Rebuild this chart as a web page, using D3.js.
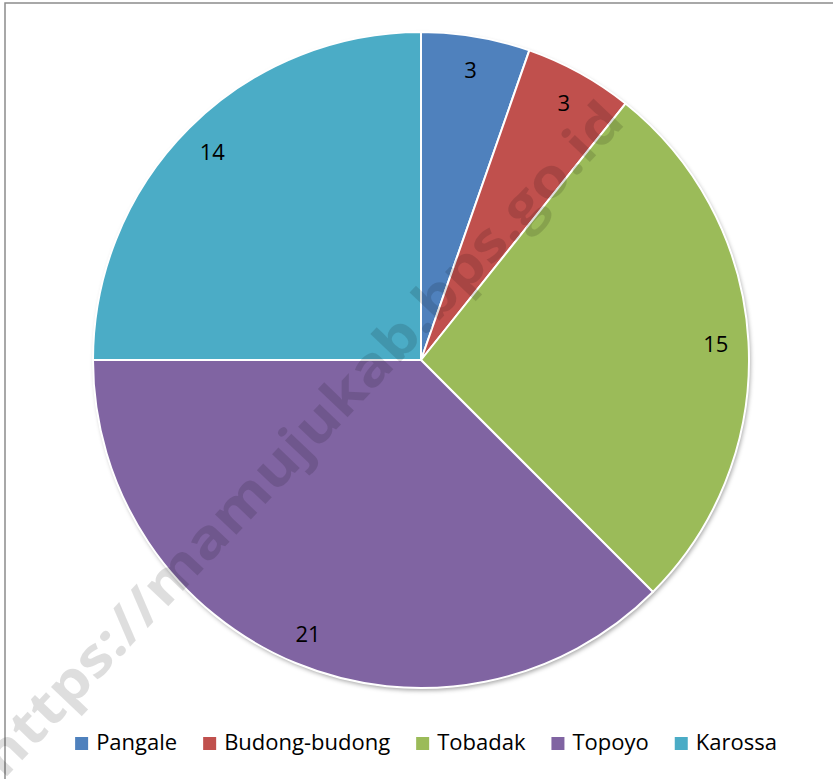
<!DOCTYPE html>
<html>
<head>
<meta charset="utf-8">
<script src="https://cdn.jsdelivr.net/npm/d3@7"></script>
<style>
  html, body { margin: 0; padding: 0; background: #fff; }
  svg { display: block; font-family: "Open Sans", sans-serif; }
</style>
</head>
<body>
<div id="chart"></div>
<script>
const categories = ["Pangale", "Budong-budong", "Tobadak", "Topoyo", "Karossa"];
const values = [3, 3, 15, 21, 14];
const colors = ["#4F81BD", "#C0504D", "#9BBB59", "#8064A2", "#4BACC6"];

const width = 833, height = 779;
const cx = 421, cy = 360, radius = 328;

const svg = d3.select("#chart").append("svg")
    .attr("width", width)
    .attr("height", height);

const defs = svg.append("defs");
defs.append("filter")
    .attr("id", "shadow")
    .attr("x", "-10%").attr("y", "-10%")
    .attr("width", "120%").attr("height", "120%")
  .append("feDropShadow")
    .attr("dx", 1.5).attr("dy", 2.5)
    .attr("stdDeviation", 2)
    .attr("flood-color", "#000")
    .attr("flood-opacity", 0.35);

// chart frame (right/bottom edges fall outside the picture)
svg.append("rect")
    .attr("x", 5).attr("y", 3)
    .attr("width", width + 20).attr("height", height + 20)
    .attr("fill", "none")
    .attr("stroke", "#8c8c8c")
    .attr("stroke-width", 1.5);

const data = categories.map((name, i) => ({name, value: values[i], color: colors[i]}));

const pie = d3.pie()
    .sort(null)
    .value(d => d.value);
const arcs = pie(data);

const arc = d3.arc().innerRadius(0).outerRadius(radius);
const labelArc = d3.arc().innerRadius(radius * 0.9).outerRadius(radius * 0.9);

const g = svg.append("g")
    .attr("transform", "translate(" + cx + "," + cy + ")");

g.append("circle")
    .attr("r", radius)
    .attr("fill", "#fff")
    .attr("filter", "url(#shadow)");

g.selectAll("path.slice")
    .data(arcs)
  .enter().append("path")
    .attr("class", "slice")
    .attr("d", arc)
    .attr("fill", d => d.data.color)
    .attr("stroke", "#fff")
    .attr("stroke-width", 2)
    .attr("stroke-linejoin", "round");

g.selectAll("text.label")
    .data(arcs)
  .enter().append("text")
    .attr("class", "label")
    .attr("transform", d => "translate(" + labelArc.centroid(d) + ")")
    .attr("text-anchor", "middle")
    .attr("dominant-baseline", "central")
    .attr("font-size", 22)
    .attr("fill", "#000")
    .text(d => d.data.value);

// legend
const legend = svg.append("g");
const item = legend.selectAll("g")
    .data(data)
  .enter().append("g");
item.append("rect")
    .attr("width", 13).attr("height", 13)
    .attr("y", -13)
    .attr("fill", d => d.color);
item.append("text")
    .attr("x", 21)
    .attr("font-size", 22)
    .attr("fill", "#000")
    .text(d => d.name);

let xPos = 0;
item.each(function() {
  const gItem = d3.select(this);
  gItem.attr("transform", "translate(" + xPos + ",0)");
  const w = gItem.select("text").node().getComputedTextLength();
  xPos += 21 + w + 26;
});
const legendWidth = xPos - 26;
legend.attr("transform", "translate(" + (426 - legendWidth / 2) + ",750)");

// watermark
svg.append("text")
    .attr("transform", "translate(300,437) rotate(-46.5)")
    .attr("text-anchor", "middle")
    .attr("dominant-baseline", "central")
    .attr("font-size", 54)
    .attr("font-weight", "bold")
    .attr("textLength", 905)
    .attr("lengthAdjust", "spacingAndGlyphs")
    .attr("fill", "#000")
    .attr("fill-opacity", 0.13)
    .text("https://mamujukab.bps.go.id");
</script>
</body>
</html>
